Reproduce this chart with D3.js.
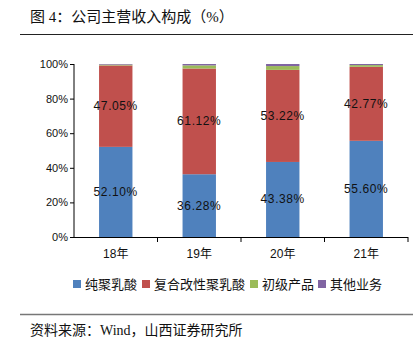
<!DOCTYPE html>
<html><head><meta charset="utf-8">
<script src="https://cdn.jsdelivr.net/npm/d3@7"></script>
<style>body{margin:0;background:#fff}svg{display:block}</style>
</head><body>
<svg id="c" width="418" height="342"></svg>
<script>
const categories = ["18年","19年","20年","21年"];
const seriesNames = ["纯聚乳酸","复合改性聚乳酸","初级产品","其他业务"];
const pure = [52.10, 36.28, 43.38, 55.60];
const composite = [47.05, 61.12, 53.22, 42.77];
const primary = [0.50, 1.80, 2.20, 1.00];
const other = [0.35, 0.80, 1.20, 0.63];
const yTicks = [0,20,40,60,80,100];
const colors = ["#4f81bd","#c0504d","#9bbb59","#8064a2"];

const svg = d3.select("#c");
const fontCJK = "'Liberation Sans','Noto Sans CJK SC',sans-serif";
const fontSerif = "'Liberation Serif','Noto Sans CJK SC',serif";

// title
svg.append("text").attr("x",30).attr("y",22).attr("font-family",fontSerif).attr("font-size",15).attr("fill","#111")
  .text("图 4：公司主营收入构成（%）");
svg.append("line").attr("x1",20).attr("x2",413).attr("y1",34.5).attr("y2",34.5).attr("stroke","#222").attr("stroke-width",1);

const x = d3.scaleBand().domain(categories).range([74,408]).paddingInner(0.6).paddingOuter(0.3);
const y = d3.scaleLinear().domain([0,100]).range([237,64]);

const rows = categories.map((c,i)=>({cat:c, s0:pure[i], s1:composite[i], s2:primary[i], s3:other[i]}));
const stack = d3.stack().keys(["s0","s1","s2","s3"])(rows);

const g = svg.append("g");
stack.forEach((layer,k)=>{
  g.selectAll(null).data(layer).enter().append("rect")
    .attr("x",d=>x(d.data.cat)).attr("width",x.bandwidth())
    .attr("y",d=>y(d[1])).attr("height",d=>y(d[0])-y(d[1]))
    .attr("fill",colors[k]);
});

// labels for first two series
[0,1].forEach(k=>{
  g.selectAll(null).data(stack[k]).enter().append("text")
    .attr("x",d=>x(d.data.cat)+x.bandwidth()/2)
    .attr("y",d=>y((d[0]+d[1])/2)+4)
    .attr("text-anchor","middle").attr("font-family","'Liberation Sans',sans-serif").attr("font-size",12)
    .attr("letter-spacing",0.6).attr("fill","#111")
    .text(d=>(d[1]-d[0]).toFixed(2)+"%");
});

// y axis
const ya = svg.append("g").attr("transform","translate(74,0)")
  .call(d3.axisLeft(y).tickValues(yTicks).tickSize(4).tickFormat(d=>d+"%"));
ya.select(".domain").attr("stroke","#000").attr("d","M0,64V237");
ya.selectAll(".tick line").attr("stroke","#000");
ya.selectAll("text").attr("font-family","'Liberation Sans',sans-serif").attr("font-size",11).attr("fill","#111").attr("x",-6);

// x axis
const xa = svg.append("g").attr("transform","translate(0,237)");
xa.append("line").attr("x1",70).attr("x2",408).attr("y1",0.5).attr("y2",0.5).attr("stroke","#000");
const bounds = categories.map((c,i)=>74+ (i+1)*(334/categories.length));
xa.selectAll(null).data(bounds).enter().append("line")
  .attr("x1",d=>d).attr("x2",d=>d).attr("y1",0).attr("y2",5).attr("stroke","#000");
xa.selectAll(null).data(categories).enter().append("text")
  .attr("x",d=>x(d)+x.bandwidth()/2).attr("y",21).attr("text-anchor","middle")
  .attr("font-family",fontCJK).attr("font-size",12).attr("fill","#111").text(d=>d);

// legend
const legX = [73,142,250,318];
const leg = svg.append("g");
seriesNames.forEach((n,i)=>{
  leg.append("rect").attr("x",legX[i]).attr("y",280).attr("width",8).attr("height",8).attr("fill",colors[i]);
  leg.append("text").attr("x",legX[i]+12).attr("y",289).attr("font-family",fontCJK).attr("font-size",13).attr("fill","#111").text(n);
});

// footer
svg.append("line").attr("x1",20).attr("x2",413).attr("y1",314.5).attr("y2",314.5).attr("stroke","#777").attr("stroke-width",1.5);
svg.append("text").attr("x",30).attr("y",335).attr("font-family",fontSerif).attr("font-size",14).attr("fill","#111")
  .text("资料来源：Wind，山西证券研究所");
</script>
</body></html>
